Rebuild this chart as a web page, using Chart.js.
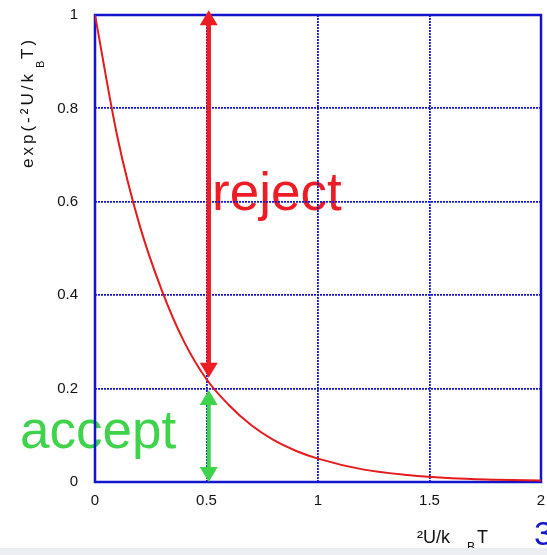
<!DOCTYPE html>
<html>
<head>
<meta charset="utf-8">
<script src="https://cdn.jsdelivr.net/npm/chart.js@4"></script>
<style>
  html, body { margin: 0; padding: 0; background: #fff; }
  #wrap { position: relative; width: 547px; height: 555px; overflow: hidden; }
  #strip { position: absolute; left: 0; top: 548px; width: 547px; height: 7px; background: #eceef4; }
</style>
</head>
<body>
<div id="wrap">
  <canvas id="chart" width="547" height="555"></canvas>
  <div id="strip"></div>
</div>
<script>
// values
const energy = [0, 0.1, 0.2, 0.3, 0.4, 0.5, 0.6, 0.7, 0.8, 0.9, 1.0, 1.2, 1.4, 1.6, 1.8, 2.0];
const prob = [1, 0.74, 0.55, 0.41, 0.30, 0.22, 0.165, 0.122, 0.09, 0.067, 0.05, 0.027, 0.015, 0.008, 0.005, 0.003];
const xTicks = [0, 0.5, 1, 1.5, 2];
const yTicks = [0, 0.2, 0.4, 0.6, 0.8, 1];
const arrowAt = 0.51;
const rejectRange = [1.01, 0.223];
const acceptRange = [0.197, 0];

const RED = '#ee1c24';
const GREEN = '#3fd24b';
const BLUE = '#1414cc';

const ctx = document.getElementById('chart').getContext('2d');

function arrowHead(c, x, tipY, dir, color) {
  // dir: -1 points up, 1 points down
  const h = 15, w = 9;
  c.save();
  c.fillStyle = color;
  c.beginPath();
  c.moveTo(x, tipY);
  c.lineTo(x - w, tipY - dir * h);
  c.lineTo(x + w, tipY - dir * h);
  c.closePath();
  c.fill();
  c.restore();
}

function noPad(s) {
  s.paddingTop = 0; s.paddingBottom = 0;
  s.paddingLeft = 0; s.paddingRight = 0;
}

const overlay = {
  id: 'overlay',
  beforeDraw(chart) {
    const c = chart.ctx;
    const sx = chart.scales.x, sy = chart.scales.y;
    c.save();
    c.textBaseline = 'alphabetic';
    c.textAlign = 'left';
    c.font = '53px "Liberation Sans", Arial, sans-serif';
    c.fillStyle = RED;
    c.fillText('reject', sx.getPixelForValue(0.525), sy.getPixelForValue(0.582));
    c.fillStyle = GREEN;
    c.fillText('accept', sx.getPixelForValue(-0.336), sy.getPixelForValue(0.073));

    // y axis title
    c.fillStyle = '#111';
    c.save();
    c.translate(33, 168);
    c.rotate(-Math.PI / 2);
    c.font = '17px "Liberation Sans", Arial, sans-serif';
    c.letterSpacing = '3px';
    c.fillText('exp(-²U/k', 0, 0);
    c.font = '11px "Liberation Sans", Arial, sans-serif';
    c.letterSpacing = '0px';
    c.fillText('B', 100, 11);
    c.font = '17px "Liberation Sans", Arial, sans-serif';
    c.letterSpacing = '3px';
    c.fillText('T)', 109, 0);
    c.restore();

    // x axis title
    c.font = '18px "Liberation Sans", Arial, sans-serif';
    c.fillText('²U/k', 417, 543);
    c.fillText('T', 477, 543);
    c.font = '12px "Liberation Sans", Arial, sans-serif';
    c.fillText('B', 467, 551);

    // page number
    c.font = '34px "Liberation Sans", Arial, sans-serif';
    c.fillStyle = BLUE;
    c.fillText('3', 534, 545);
    c.restore();
  },
  beforeDatasetsDraw(chart) {
    const a = chart.chartArea;
    const c = chart.ctx;
    c.save();
    c.strokeStyle = BLUE;
    c.lineWidth = 2.5;
    c.strokeRect(a.left, a.top, a.right - a.left, a.bottom - a.top);
    c.restore();
  },
  afterDatasetsDraw(chart) {
    const c = chart.ctx;
    const sx = chart.scales.x, sy = chart.scales.y;
    const x = sx.getPixelForValue(arrowAt);
    arrowHead(c, x, sy.getPixelForValue(rejectRange[0]), -1, RED);
    arrowHead(c, x, sy.getPixelForValue(rejectRange[1]), 1, RED);
    arrowHead(c, x, sy.getPixelForValue(acceptRange[0]), -1, GREEN);
    arrowHead(c, x, sy.getPixelForValue(acceptRange[1]), 1, GREEN);
  }
};

new Chart(ctx, {
  type: 'scatter',
  data: {
    datasets: [
      {
        data: energy.map((e, i) => ({ x: e, y: prob[i] })),
        showLine: true,
        borderColor: '#e41a1c',
        borderWidth: 2,
        pointRadius: 0,
        cubicInterpolationMode: 'monotone'
      },
      {
        data: [{ x: arrowAt, y: rejectRange[0] - 0.02 }, { x: arrowAt, y: rejectRange[1] + 0.02 }],
        showLine: true,
        borderColor: RED,
        borderWidth: 4.5,
        pointRadius: 0,
        clip: false
      },
      {
        data: [{ x: arrowAt, y: acceptRange[0] - 0.02 }, { x: arrowAt, y: acceptRange[1] + 0.02 }],
        showLine: true,
        borderColor: GREEN,
        borderWidth: 4,
        pointRadius: 0,
        clip: false
      }
    ]
  },
  options: {
    responsive: false,
    animation: false,
    layout: { padding: { top: 15, right: 6, left: 0, bottom: 0 } },
    plugins: { legend: { display: false }, tooltip: { enabled: false } },
    scales: {
      x: {
        type: 'linear',
        min: 0, max: 2,
        afterBuildTicks: s => { s.ticks = xTicks.map(v => ({ value: v })); },
        afterFit: s => { s.height = 73; noPad(s); },
        grid: { color: BLUE, lineWidth: 1.8, drawTicks: false },
        border: { display: false, dash: [2, 1] },
        ticks: { padding: 10, color: '#111', font: { family: '"Liberation Sans", Arial', size: 15 }, maxRotation: 0, callback: v => String(v) }
      },
      y: {
        type: 'linear',
        min: 0, max: 1,
        afterBuildTicks: s => { s.ticks = yTicks.map(v => ({ value: v })); },
        afterFit: s => { s.width = 95; noPad(s); },
        grid: { color: BLUE, lineWidth: 1.8, drawTicks: false },
        border: { display: false, dash: [2, 1] },
        ticks: { padding: 17, color: '#111', font: { family: '"Liberation Sans", Arial', size: 15 }, callback: v => String(v) }
      }
    }
  },
  plugins: [overlay]
});
</script>
</body>
</html>
